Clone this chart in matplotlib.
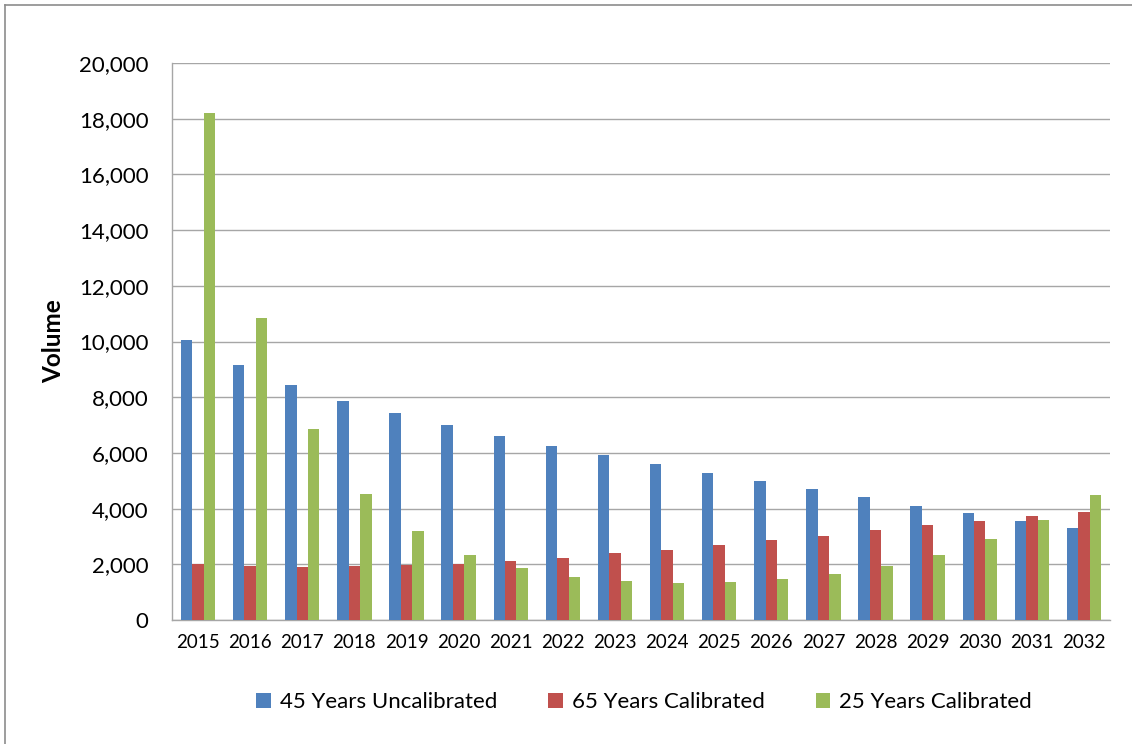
import matplotlib

matplotlib.use("Agg")
import matplotlib.pyplot as plt
from matplotlib.lines import Line2D
import numpy as np

plt.rcParams["font.family"] = ["Lato", "DejaVu Sans"]

years = [str(y) for y in range(2015, 2033)]
uncal_45 = [10040, 9150, 8440, 7880, 7420, 7000, 6610, 6250, 5920, 5610,
            5290, 4990, 4690, 4410, 4100, 3840, 3570, 3290]
cal_65 = [2000, 1940, 1900, 1930, 1960, 2010, 2120, 2230, 2390, 2520,
          2680, 2870, 3030, 3220, 3400, 3570, 3720, 3890]
cal_25 = [18200, 10840, 6860, 4540, 3200, 2330, 1860, 1530, 1400, 1340,
          1360, 1470, 1650, 1930, 2330, 2900, 3590, 4490]
series_names = ["45 Years Uncalibrated", "65 Years Calibrated", "25 Years Calibrated"]
colors = ["#4F81BD", "#C0504D", "#9BBB59"]

fig = plt.figure(figsize=(11.32, 7.44), dpi=100)
ax = fig.add_axes([172 / 1132, 1 - 620 / 744, (1110 - 172) / 1132, (620 - 63) / 744])

x = np.arange(len(years))
w = 0.22
for i, (vals, name, c) in enumerate(zip([uncal_45, cal_65, cal_25], series_names, colors)):
    ax.bar(x + (i - 1) * w, vals, width=w, color=c, label=name, zorder=3)

ax.set_xlim(-0.5, len(years) - 0.5)
ax.set_ylim(0, 20000)
ax.set_yticks(np.arange(0, 20001, 2000))
ax.set_yticklabels([f"{v:,}" for v in range(0, 20001, 2000)], fontsize=16)
ax.set_xticks(x)
ax.set_xticklabels(years, fontsize=13.5)
ax.tick_params(axis="both", length=0)
ax.tick_params(axis="y", pad=17)
ax.tick_params(axis="x", pad=10)
ax.grid(axis="y", color="#A6A6A6", linewidth=1, zorder=0)
for side in ["top", "right"]:
    ax.spines[side].set_visible(False)
for side in ["left", "bottom"]:
    ax.spines[side].set_color("#A6A6A6")
    ax.spines[side].set_linewidth(1)
ax.set_ylabel("Volume", fontsize=17.5, fontweight="bold", labelpad=10)

fig.legend(loc="center", bbox_to_anchor=(0.569, 1 - 702 / 744), ncol=3, frameon=False,
           fontsize=16, handlelength=0.65, handleheight=0.65, handletextpad=0.4,
           columnspacing=2.3)

# chart area border (left and top edges visible in the reference)
fig.add_artist(Line2D([5 / 1132, 5 / 1132], [0, 1 - 5 / 744], color="#8C8C8C", lw=1.2))
fig.add_artist(Line2D([5 / 1132, 1], [1 - 5 / 744, 1 - 5 / 744], color="#8C8C8C", lw=1.2))

fig.savefig("out.png", dpi=100)
